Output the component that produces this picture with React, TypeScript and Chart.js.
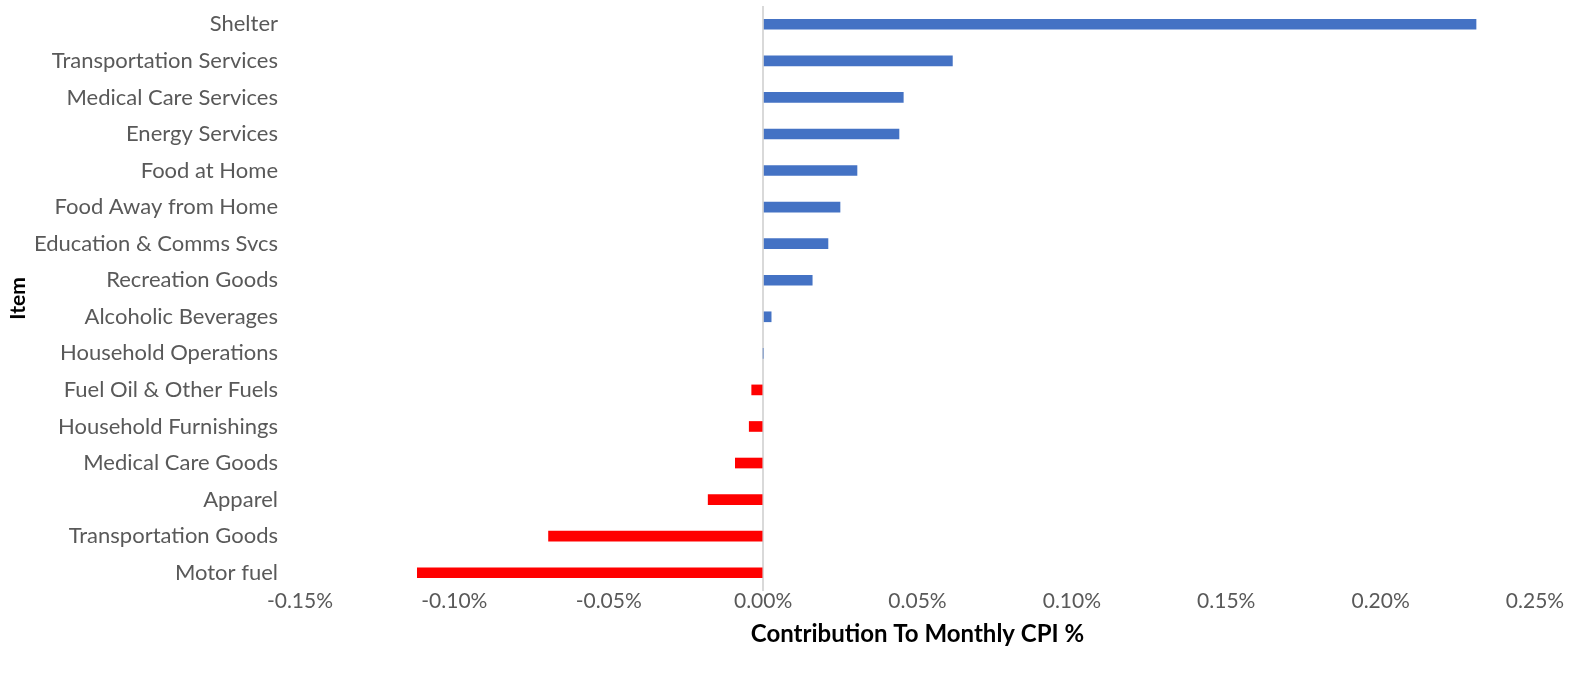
import React, { useEffect, useRef } from "react";
import { Chart, registerables } from "chart.js";

Chart.register(...registerables);

const categories: string[] = [
  "Shelter",
  "Transportation Services",
  "Medical Care Services",
  "Energy Services",
  "Food at Home",
  "Food Away from Home",
  "Education & Comms Svcs",
  "Recreation Goods",
  "Alcoholic Beverages",
  "Household Operations",
  "Fuel Oil & Other Fuels",
  "Household Furnishings",
  "Medical Care Goods",
  "Apparel",
  "Transportation Goods",
  "Motor fuel",
];

const contributions: number[] = [
  0.2309, 0.0613, 0.0454, 0.044, 0.0304, 0.0249, 0.021, 0.0159, 0.0026, 0.0,
  -0.0037, -0.0045, -0.009, -0.0178, -0.0695, -0.112,
];

const xTickValues: number[] = [-0.15, -0.1, -0.05, 0, 0.05, 0.1, 0.15, 0.2, 0.25];

const xTitle = "Contribution To Monthly CPI %";
const yTitle = "Item";

const POS_COLOR = "#4472C4";
const NEG_COLOR = "#FF0000";
const FONT = "Lato, 'Open Sans', sans-serif";

export default function App() {
  const ref = useRef<HTMLCanvasElement | null>(null);

  useEffect(() => {
    if (!ref.current) return;
    const chart = new Chart(ref.current, {
      type: "bar",
      data: {
        labels: categories,
        datasets: [
          {
            data: contributions,
            backgroundColor: contributions.map((v) => (v >= 0 ? POS_COLOR : NEG_COLOR)),
            barThickness: 10,
            borderWidth: 0,
          },
        ],
      },
      options: {
        indexAxis: "y",
        responsive: false,
        animation: false,
        layout: { padding: { left: 0, right: 35, top: 6, bottom: 0 } },
        plugins: {
          legend: { display: false },
          tooltip: { enabled: false },
        },
        scales: {
          x: {
            type: "linear",
            min: xTickValues[0],
            max: xTickValues[xTickValues.length - 1],
            afterBuildTicks: (axis: any) => {
              axis.ticks = xTickValues.map((v) => ({ value: v }));
            },
            afterFit: (axis: any) => {
              axis.height = 85;
              axis.paddingLeft = 0;
              axis.paddingRight = 0;
            },
            border: { display: false },
            grid: {
              drawTicks: false,
              lineWidth: 2,
              color: (ctx: any) =>
                ctx.tick && Math.abs(ctx.tick.value) < 1e-9 ? "#d9d9d9" : "rgba(0,0,0,0)",
            },
            ticks: {
              padding: 0,
              color: "#595959",
              font: { family: FONT, size: 21, lineHeight: 1 },
              callback: (v: any) => {
                const n = Math.abs(Number(v)) < 1e-9 ? 0 : Number(v);
                return n.toFixed(2) + "%";
              },
            },
            title: {
              display: true,
              text: xTitle,
              color: "#000000",
              font: { family: FONT, size: 24, weight: "bold", lineHeight: 1.2 },
              padding: { top: 0, bottom: 27 },
            },
          },
          y: {
            afterFit: (axis: any) => {
              axis.width = 300;
              axis.paddingTop = 0;
              axis.paddingBottom = 0;
            },
            border: { display: false },
            grid: { display: false, drawTicks: false },
            ticks: {
              padding: 22,
              color: "#595959",
              font: { family: FONT, size: 22, lineHeight: 1 },
            },
            title: {
              display: true,
              text: yTitle,
              color: "#000000",
              font: { family: FONT, size: 21, weight: "bold", lineHeight: 1.2 },
              padding: { top: 6, bottom: 0 },
            },
          },
        },
      },
    });
    return () => chart.destroy();
  }, []);

  return (
    <div style={{ position: "fixed", left: 0, top: 0, width: 1570, height: 676, background: "#ffffff" }}>
      <canvas ref={ref} width={1570} height={676} style={{ display: "block" }} />
    </div>
  );
}
